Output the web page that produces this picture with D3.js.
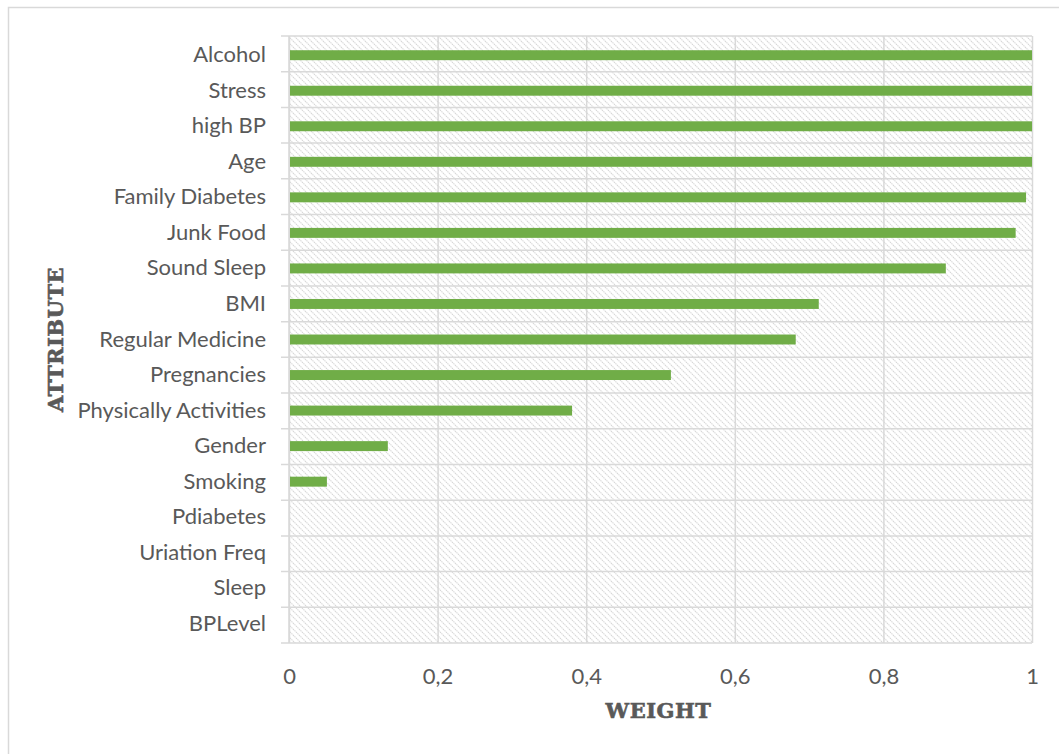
<!DOCTYPE html>
<html>
<head>
<meta charset="utf-8">
<script src="https://cdn.jsdelivr.net/npm/d3@7"></script>
<style>
  html, body { margin: 0; padding: 0; background: #fff; }
  svg { display: block; }
</style>
</head>
<body>
<script>
const categories = ["Alcohol","Stress","high BP","Age","Family Diabetes","Junk Food","Sound Sleep","BMI","Regular Medicine","Pregnancies","Physically Activities","Gender","Smoking","Pdiabetes","Uriation Freq","Sleep","BPLevel"];
const weights = [1, 1, 1, 1, 0.992, 0.978, 0.884, 0.713, 0.682, 0.514, 0.381, 0.133, 0.051, 0, 0, 0, 0];
const xTicks = [0, 0.2, 0.4, 0.6, 0.8, 1];
const xTickLabels = ["0", "0,2", "0,4", "0,6", "0,8", "1"];
const xTitle = "WEIGHT";
const yTitle = "ATTRIBUTE";

const W = 1059, H = 754;
const plot = { left: 289, right: 1032, top: 36, bottom: 643 };
const textColor = "#595959", gridColor = "#d9d9d9", barColor = "#70AD47";
const labelFont = "Lato, 'Open Sans', sans-serif";
const titleFont = "'DejaVu Serif', 'DejaVu Serif Condensed', 'Liberation Serif', serif";

const svg = d3.select("body").append("svg").attr("width", W).attr("height", H);

// hatch pattern
const defs = svg.append("defs");
const pat = defs.append("pattern").attr("id", "hatch").attr("patternUnits", "userSpaceOnUse")
  .attr("width", 6).attr("height", 6);
pat.append("rect").attr("width", 6).attr("height", 6).attr("fill", "#fff");
pat.append("path").attr("d", "M-1,-1 L7,7 M-1,5 L1,7 M5,-1 L7,1")
  .attr("stroke", "#d6d6d6").attr("stroke-width", 1.1).attr("stroke-dasharray", "1.4,0.7");

// outer frame
svg.append("rect").attr("x", 8.5).attr("y", 7.5).attr("width", W + 20).attr("height", H + 20)
  .attr("fill", "none").attr("stroke", gridColor).attr("stroke-width", 1.5);

const x = d3.scaleLinear().domain([0, 1]).range([plot.left, plot.right]);
const y = d3.scaleBand().domain(categories).range([plot.top, plot.bottom]).paddingInner(0.72).paddingOuter(0.4);
const yb = d3.scaleBand().domain(categories).range([plot.top, plot.bottom]).padding(0);

// plot background
svg.append("rect").attr("x", x(0)).attr("y", plot.top).attr("width", x(1) - x(0))
  .attr("height", plot.bottom - plot.top).attr("fill", "url(#hatch)");

// vertical gridlines
const xAxis = d3.axisBottom(x).tickValues(xTicks).tickSize(-(plot.bottom - plot.top))
  .tickFormat((d, i) => xTickLabels[i]).tickPadding(25);
const gx = svg.append("g").attr("transform", `translate(0,${plot.bottom})`).call(xAxis);
gx.select(".domain").remove();
gx.selectAll(".tick line").attr("stroke", gridColor).attr("stroke-width", 1.5);
gx.selectAll(".tick text").attr("fill", textColor).attr("font-family", labelFont).attr("font-size", 22);

// horizontal gridlines at category boundaries
const bounds = categories.map(c => yb(c)).concat([plot.bottom]);
svg.append("g").selectAll("line").data(bounds).join("line")
  .attr("x1", plot.left - 8).attr("x2", x(1)).attr("y1", d => d).attr("y2", d => d)
  .attr("stroke", gridColor).attr("stroke-width", 1.5);

// left axis line
svg.append("line").attr("x1", x(0)).attr("x2", x(0)).attr("y1", plot.top).attr("y2", plot.bottom)
  .attr("stroke", gridColor).attr("stroke-width", 1.5);

// y axis labels
const yAxis = d3.axisLeft(y).tickSize(0).tickPadding(23);
const gy = svg.append("g").attr("transform", `translate(${plot.left},0)`).call(yAxis);
gy.select(".domain").remove();
gy.selectAll(".tick text").attr("fill", textColor).attr("font-family", labelFont).attr("font-size", 22);

// bars
svg.append("g").selectAll("rect").data(categories).join("rect")
  .attr("x", x(0) + 1).attr("y", d => y(d))
  .attr("width", (d, i) => Math.max(0, x(weights[i]) - x(0) - 1))
  .attr("height", y.bandwidth()).attr("fill", barColor);

// titles
svg.append("text").attr("x", (plot.left + plot.right) / 2 - 2).attr("y", 718)
  .attr("text-anchor", "middle").attr("font-family", titleFont).attr("font-weight", "bold")
  .attr("font-size", 21).attr("fill", textColor).attr("stroke", textColor).attr("stroke-width", 0.6)
  .attr("letter-spacing", 0.5).text(xTitle);
svg.append("text").attr("transform", `translate(63,${(plot.top + plot.bottom) / 2}) rotate(-90)`)
  .attr("text-anchor", "middle").attr("font-family", titleFont).attr("font-weight", "bold")
  .attr("font-size", 21).attr("fill", textColor).attr("stroke", textColor).attr("stroke-width", 0.6)
  .attr("letter-spacing", 0.5).text(yTitle);
</script>
</body>
</html>
